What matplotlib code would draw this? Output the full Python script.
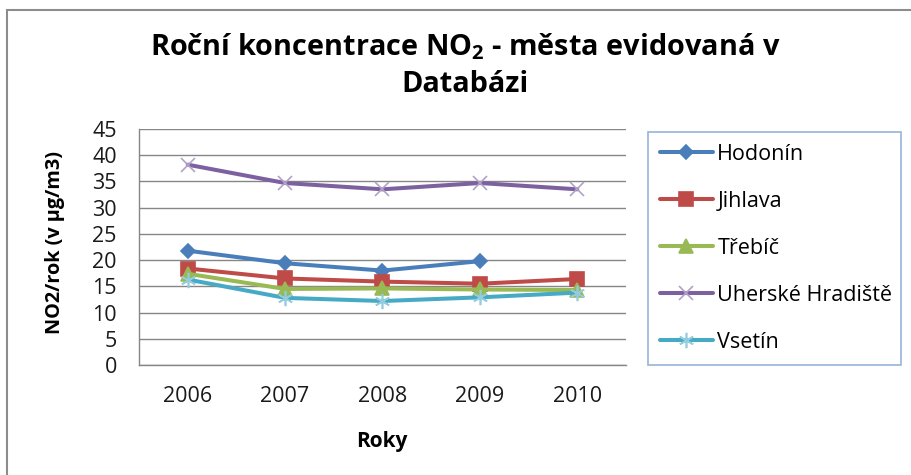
import matplotlib
matplotlib.use("Agg")
import matplotlib.pyplot as plt
from matplotlib.patches import Rectangle

plt.rcParams['font.family'] = ['Open Sans', 'DejaVu Sans']
plt.rcParams['mathtext.fontset'] = 'custom'
plt.rcParams['mathtext.rm'] = 'Open Sans'
plt.rcParams['mathtext.bf'] = 'Open Sans:bold'

years = ['2006', '2007', '2008', '2009', '2010']
hodonin = [21.8, 19.4, 18.0, 19.8, None]
jihlava = [18.4, 16.5, 15.9, 15.5, 16.4]
trebic = [17.4, 14.5, 14.6, 14.4, 14.3]
uherske = [38.2, 34.7, 33.5, 34.7, 33.5]
vsetin = [16.3, 12.8, 12.2, 12.9, 13.8]

series = [
    ('Hodonín', hodonin, '#4A7EBB', 'D', '#4A7EBB', 7.5),
    ('Jihlava', jihlava, '#BE4B48', 's', '#BE4B48', 9.5),
    ('Třebíč', trebic, '#98B954', '^', '#98B954', 9.5),
    ('Uherské Hradiště', uherske, '#7D60A0', 'x', '#B3A2C7', 10),
    ('Vsetín', vsetin, '#46AAC5', (6, 2, 0), '#93CDDD', 11),
]

W, H = 912, 475
fig = plt.figure(figsize=(W / 100, H / 100), dpi=100)

# chart outer border
fig.patches.append(Rectangle((7 / W, -0.1), 1.2, 1 - 10 / H + 0.1,
                             transform=fig.transFigure, fill=False,
                             edgecolor='#8C8C8C', linewidth=1.5))

ax = fig.add_axes([139 / W, 1 - 365 / H, (626 - 139) / W, (365 - 129) / H])
x = list(range(len(years)))
handles = []
for name, vals, col, mk, mcol, ms in series:
    xs = [xi for xi, v in zip(x, vals) if v is not None]
    ys = [v for v in vals if v is not None]
    h, = ax.plot(xs, ys, color=col, linewidth=2.9, marker=mk, markersize=ms,
                 markerfacecolor=mcol, markeredgecolor=mcol, markeredgewidth=1.2,
                 label=name, solid_capstyle='round')
    handles.append(h)

ax.set_xlim(-0.5, len(years) - 0.5)
ax.set_ylim(0, 45)
ax.set_yticks(range(0, 46, 5))
ax.set_xticks(x)
ax.set_xticklabels(years)
ax.yaxis.grid(True, color='#868686', linewidth=1)
ax.set_axisbelow(True)
for s in ['top', 'right']:
    ax.spines[s].set_visible(False)
for s in ['left', 'bottom']:
    ax.spines[s].set_color('#868686')
    ax.spines[s].set_linewidth(1)
ax.tick_params(axis='both', length=0, labelsize=15.5, colors='#1a1a1a')
ax.tick_params(axis='y', pad=16)
ax.tick_params(axis='x', pad=15)

fig.text(382 / W, 1 - 442 / H, 'Roky', ha='center', va='center',
         fontsize=15, fontweight='bold')
fig.text(55 / W, 1 - 242 / H, 'NO2/rok (v µg/m3)', ha='center', va='center',
         rotation=90, fontsize=14.3, fontweight='bold')

fig.text(465 / W, 1 - 47 / H, r'Roční koncentrace NO$_\mathbf{2}$ - města evidovaná v',
         ha='center', va='center', fontsize=20.8, fontweight='bold')
fig.text(465 / W, 1 - 84 / H, 'Databázi', ha='center', va='center',
         fontsize=20.8, fontweight='bold')

leg = fig.legend(handles=handles, loc='upper left',
                 bbox_to_anchor=(648 / W, 1 - 132 / H, (901 - 648) / W, 0.0),
                 mode='expand', frameon=True, fancybox=False,
                 fontsize=15.5, handlelength=2.47, handletextpad=0.2,
                 labelspacing=1.21, borderpad=0.55, borderaxespad=0)
leg.get_frame().set_edgecolor('#7F9FCF')
leg.get_frame().set_linewidth(1.2)

fig.savefig('out.png', dpi=100)
